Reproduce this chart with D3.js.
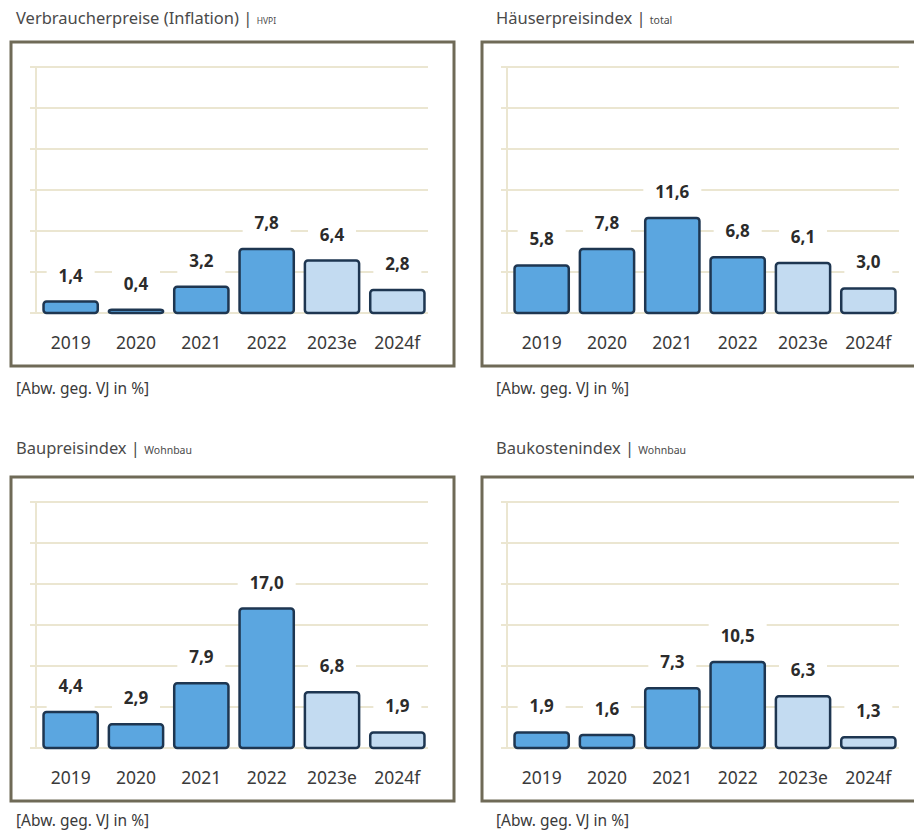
<!DOCTYPE html>
<html>
<head>
<meta charset="utf-8">
<script src="https://cdn.jsdelivr.net/npm/d3@7"></script>
<style>
  body { margin: 0; background: #fff; }
  svg { display: block; font-family: "Noto Sans", sans-serif; }
</style>
</head>
<body>
<div id="chart"></div>
<script>
// categories + tick values
const years = ["2019", "2020", "2021", "2022", "2023e", "2024f"];
const forecastYears = ["2023e", "2024f"];
const yTicks = [0, 5, 10, 15, 20, 25, 30];

// panel texts
const titles = ["Verbraucherpreise (Inflation)", "Häuserpreisindex", "Baupreisindex", "Baukostenindex"];
const subtitles = ["HVPI", "total", "Wohnbau", "Wohnbau"];
const unitNote = "[Abw. geg. VJ in %]";

// series values (change vs previous year, %)
const inflation = [1.4, 0.4, 3.2, 7.8, 6.4, 2.8];
const housePrices = [5.8, 7.8, 11.6, 6.8, 6.1, 3.0];
const constructionPrices = [4.4, 2.9, 7.9, 17.0, 6.8, 1.9];
const constructionCosts = [1.9, 1.6, 7.3, 10.5, 6.3, 1.3];

const series = [inflation, housePrices, constructionPrices, constructionCosts];

const W = 914, H = 831;
const svg = d3.select("#chart").append("svg")
    .attr("width", W)
    .attr("height", H);

// layout of the 2x2 grid
const colX = [11, 482];
const textX = [16, 496];
const rowY = [42, 477];
const titleY = [24, 454];
const noteY = [394, 826];
const boxW = 443, boxH = 324;

const fmt = v => d3.format(".1f")(v).replace(".", ",");

function drawPanel(i) {
    const col = i % 2, row = Math.floor(i / 2);
    const x0 = colX[col], y0 = rowY[row];
    const values = series[i];
    const data = years.map((y, k) => ({year: y, value: values[k]}));

    const g = svg.append("g");

    // title with small subtitle
    const t = g.append("text")
        .attr("x", textX[col])
        .attr("y", titleY[row])
        .attr("fill", "#4a4a4a")
        .style("font-size", "16.5px");
    t.append("tspan").text(titles[i] + " | ");
    t.append("tspan")
        .style("font-size", i === 0 ? "8.5px" : "10.5px")
        .text(subtitles[i]);

    // frame
    g.append("rect")
        .attr("x", x0)
        .attr("y", y0)
        .attr("width", boxW)
        .attr("height", boxH)
        .attr("fill", "#fff")
        .attr("stroke", "#6f6a57")
        .attr("stroke-width", 3);

    // scales
    const x = d3.scaleBand()
        .domain(years)
        .range([x0 + 26, x0 + 420])
        .paddingInner(0.17)
        .paddingOuter(0.1);

    const y = d3.scaleLinear()
        .domain([0, 30])
        .range([y0 + 271, y0 + 25]);

    const axisX = x0 + 25;

    // gridlines
    g.selectAll(".grid")
        .data(yTicks)
        .join("line")
        .attr("class", "grid")
        .attr("x1", axisX - 6)
        .attr("x2", x0 + 417)
        .attr("y1", d => y(d))
        .attr("y2", d => y(d))
        .attr("stroke", "#ebe6d1")
        .attr("stroke-width", 2);

    g.append("line")
        .attr("x1", axisX)
        .attr("x2", axisX)
        .attr("y1", y(30))
        .attr("y2", y(0))
        .attr("stroke", "#ebe6d1")
        .attr("stroke-width", 2);

    // white boxes behind value labels (break the gridlines)
    const bgW = d => fmt(d.value).length * 10 + 18;
    g.selectAll(".label-bg")
        .data(data)
        .join("rect")
        .attr("class", "label-bg")
        .attr("x", d => x(d.year) + x.bandwidth() / 2 - bgW(d) / 2)
        .attr("y", d => y(d.value) - 44)
        .attr("width", bgW)
        .attr("height", 42)
        .attr("fill", "#fff");

    // bars
    g.selectAll(".bar")
        .data(data)
        .join("rect")
        .attr("class", "bar")
        .attr("x", d => x(d.year))
        .attr("y", d => y(d.value))
        .attr("width", x.bandwidth())
        .attr("height", d => y(0) - y(d.value))
        .attr("rx", 3)
        .attr("fill", d => forecastYears.includes(d.year) ? "#c3dbf1" : "#5ba6e0")
        .attr("stroke", "#1e3651")
        .attr("stroke-width", 2.5);

    // value labels
    g.selectAll(".value")
        .data(data)
        .join("text")
        .attr("class", "value")
        .attr("x", d => x(d.year) + x.bandwidth() / 2)
        .attr("y", d => y(d.value) - 20)
        .attr("text-anchor", "middle")
        .attr("fill", "#2b2b2b")
        .style("font-size", "17px")
        .style("font-weight", "bold")
        .text(d => fmt(d.value));

    // category axis
    const xAxis = d3.axisBottom(x).tickSize(0).tickPadding(0);
    const ax = g.append("g")
        .attr("transform", `translate(0,${y(0) + 36})`)
        .call(xAxis);
    ax.select(".domain").remove();
    ax.selectAll("text")
        .attr("dy", 0)
        .attr("fill", "#3a3a3a")
        .style("font-size", "17.5px")
        .style("font-family", "Noto Sans, sans-serif");

    // unit note
    g.append("text")
        .attr("x", textX[col])
        .attr("y", noteY[row])
        .attr("fill", "#3a3a3a")
        .style("font-size", "15.5px")
        .text(unitNote);
}

series.forEach((s, i) => drawPanel(i));
</script>
</body>
</html>
